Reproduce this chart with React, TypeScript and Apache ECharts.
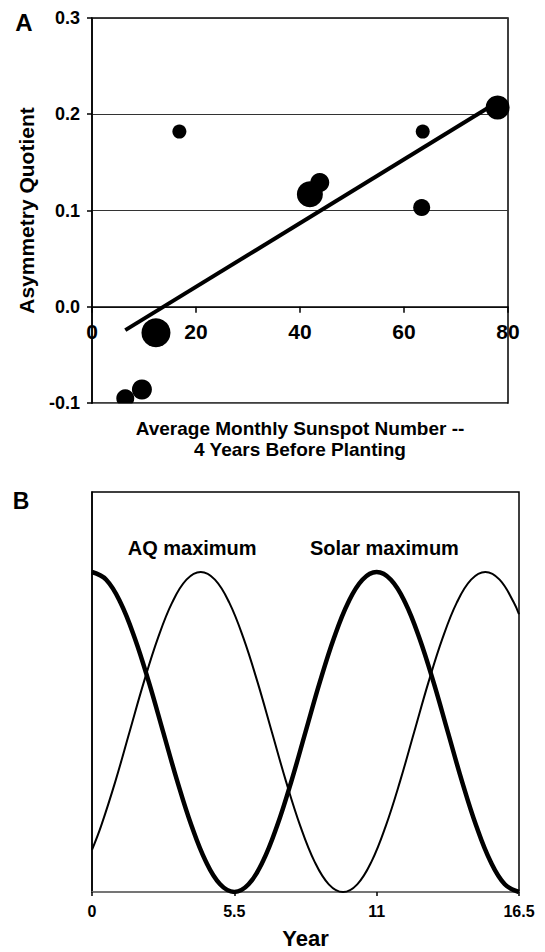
import React, { useEffect, useRef } from "react";
import * as echarts from "echarts";

// ---- Panel A data ----
const sunspotNumber = [16.8, 63.6, 63.4, 43.8, 41.9, 78.0, 12.3, 9.6, 6.4];
const asymmetryQuotient = [0.182, 0.182, 0.103, 0.129, 0.117, 0.207, -0.027, -0.086, -0.095];
const bubbleWeight = [14, 14, 17, 19, 26, 24, 29, 20, 18];
const trendSlope = 0.00331;
const trendIntercept = -0.0455;
const yTicksA = [-0.1, 0.0, 0.1, 0.2, 0.3];
const xTicksA = [0, 20, 40, 60, 80];

// ---- Panel B data ----
const solarYears = [
  0, 0.55, 1.1, 1.65, 2.2, 2.75, 3.3, 3.85, 4.4, 4.95, 5.5, 6.05, 6.6, 7.15, 7.7, 8.25, 8.8,
  9.35, 9.9, 10.45, 11, 11.55, 12.1, 12.65, 13.2, 13.75, 14.3, 14.85, 15.4, 15.95, 16.5,
];
const solarCycle = [
  1, 0.976, 0.905, 0.794, 0.655, 0.5, 0.345, 0.206, 0.095, 0.024, 0, 0.024, 0.095, 0.206,
  0.345, 0.5, 0.655, 0.794, 0.905, 0.976, 1, 0.976, 0.905, 0.794, 0.655, 0.5, 0.345, 0.206,
  0.095, 0.024, 0,
];
const aqYears = [
  0, 0.35, 0.9, 1.45, 2.0, 2.55, 3.1, 3.65, 4.2, 4.75, 5.3, 5.85, 6.4, 6.95, 7.5, 8.05, 8.6,
  9.15, 9.7, 10.25, 10.8, 11.35, 11.9, 12.45, 13.0, 13.55, 14.1, 14.65, 15.2, 15.75, 16.3, 16.5,
];
const aqCycle = [
  0.132, 0.206, 0.345, 0.5, 0.655, 0.794, 0.905, 0.976, 1, 0.976, 0.905, 0.794, 0.655, 0.5,
  0.345, 0.206, 0.095, 0.024, 0, 0.024, 0.095, 0.206, 0.345, 0.5, 0.655, 0.794, 0.905, 0.976,
  1, 0.976, 0.905, 0.868,
];
const cycleLabels = ["AQ maximum", "Solar maximum"];
const cycleLabelYears = [3.87, 11.3];
const cycleLabelLevel = 1.075;
const yearTicks = [0, 5.5, 11, 16.5];

const FONT = '"Liberation Sans", Arial, Helvetica, sans-serif';

export default function App() {
  const ref = useRef<HTMLDivElement>(null);

  useEffect(() => {
    document.body.style.margin = "0";
    if (!ref.current) return;
    const chart = echarts.init(ref.current, null, { renderer: "svg" });

    const gridA = { left: 92, top: 18, width: 416, height: 385 };
    const yMinA = yTicksA[0];
    const yMaxA = yTicksA[yTicksA.length - 1];
    // move the x axis of panel A up to the zero line
    const zeroOffset = -(gridA.height * (0 - yMinA)) / (yMaxA - yMinA);

    const xMinData = Math.min(...sunspotNumber);
    const xMaxData = Math.max(...sunspotNumber);
    const trendData = [
      [xMinData, trendIntercept + trendSlope * xMinData],
      [xMaxData, trendIntercept + trendSlope * xMaxData],
    ];

    const option: any = {
      animation: false,
      textStyle: { fontFamily: FONT, color: "#000" },
      grid: [
        { ...gridA, show: true, borderColor: "#000", borderWidth: 1.5 },
        { left: 92, top: 492, width: 427, height: 400, show: true, borderColor: "#000", borderWidth: 1.5 },
      ],
      xAxis: [
        {
          gridIndex: 0,
          type: "value",
          min: xTicksA[0],
          max: xTicksA[xTicksA.length - 1],
          interval: 20,
          offset: zeroOffset,
          axisLine: { show: true, onZero: false, lineStyle: { color: "#000", width: 1.5 } },
          axisTick: { show: true, length: 6, lineStyle: { color: "#000", width: 1.5 } },
          axisLabel: { fontSize: 21, fontWeight: "bold", color: "#000", margin: 14, fontFamily: FONT },
          splitLine: { show: false },
          name: "Average Monthly Sunspot Number --\n4 Years Before Planting",
          nameLocation: "middle",
          nameGap: 111,
          nameTextStyle: { fontSize: 19, fontWeight: "bold", lineHeight: 21, color: "#000", fontFamily: FONT },
        },
        {
          gridIndex: 1,
          type: "value",
          min: yearTicks[0],
          max: yearTicks[yearTicks.length - 1],
          interval: 5.5,
          axisLine: { show: true, onZero: false, lineStyle: { color: "#888", width: 1.5 } },
          axisTick: { show: true, length: 4, lineStyle: { color: "#000", width: 1.5 } },
          axisLabel: {
            fontSize: 16,
            fontWeight: "bold",
            color: "#000",
            margin: 11,
            fontFamily: FONT,
            formatter: (v: number) => String(v),
          },
          splitLine: { show: false },
          name: "Year",
          nameLocation: "middle",
          nameGap: 35,
          nameTextStyle: { fontSize: 22, fontWeight: "bold", color: "#000", fontFamily: FONT },
        },
      ],
      yAxis: [
        {
          gridIndex: 0,
          type: "value",
          min: yMinA,
          max: yMaxA,
          interval: 0.1,
          axisLine: { show: true, onZero: false, lineStyle: { color: "#000", width: 1.5 } },
          axisTick: { show: true, length: 5, lineStyle: { color: "#000", width: 1.5 } },
          axisLabel: {
            fontSize: 18,
            fontWeight: "bold",
            color: "#000",
            margin: 12,
            fontFamily: FONT,
            formatter: (v: number) => v.toFixed(1),
          },
          splitLine: { show: true, lineStyle: { color: "#333", width: 1 } },
          name: "Asymmetry Quotient",
          nameLocation: "middle",
          nameRotate: 90,
          nameGap: 55,
          nameTextStyle: { fontSize: 21, fontWeight: "bold", color: "#000", fontFamily: FONT },
        },
        {
          gridIndex: 1,
          type: "value",
          min: 0,
          max: 1.25,
          axisLine: { show: true, onZero: false, lineStyle: { color: "#000", width: 1.5 } },
          axisTick: { show: false },
          axisLabel: { show: false },
          splitLine: { show: false },
        },
      ],
      series: [
        {
          type: "line",
          xAxisIndex: 0,
          yAxisIndex: 0,
          data: trendData,
          symbol: "none",
          lineStyle: { color: "#000", width: 4 },
          z: 2,
        },
        {
          type: "scatter",
          xAxisIndex: 0,
          yAxisIndex: 0,
          data: sunspotNumber.map((x, i) => [x, asymmetryQuotient[i], bubbleWeight[i]]),
          symbolSize: (v: number[]) => v[2],
          itemStyle: { color: "#000", opacity: 1 },
          z: 3,
        },
        {
          type: "line",
          xAxisIndex: 1,
          yAxisIndex: 1,
          data: aqYears.map((t, i) => [t, aqCycle[i]]),
          symbol: "none",
          smooth: 0.4,
          lineStyle: { color: "#000", width: 2 },
        },
        {
          type: "line",
          xAxisIndex: 1,
          yAxisIndex: 1,
          data: solarYears.map((t, i) => [t, solarCycle[i]]),
          symbol: "none",
          smooth: 0.4,
          lineStyle: { color: "#000", width: 4.5 },
        },
        {
          type: "scatter",
          xAxisIndex: 1,
          yAxisIndex: 1,
          data: cycleLabels.map((name, i) => [cycleLabelYears[i], cycleLabelLevel, name]),
          symbolSize: 1,
          itemStyle: { color: "rgba(0,0,0,0)", opacity: 1 },
          label: {
            show: true,
            position: "inside",
            formatter: (p: any) => p.data[2],
            fontSize: 20,
            fontWeight: "bold",
            color: "#000",
            opacity: 1,
            textBorderWidth: 0,
            fontFamily: FONT,
          },
        },
      ],
      graphic: [
        {
          type: "rect",
          shape: { x: gridA.left + 1, y: gridA.top + gridA.height + 0.8, width: gridA.width - 2, height: 8 },
          style: { fill: "#fff" },
          z: 100,
        },
        {
          type: "text",
          x: 24,
          y: 22,
          style: { text: "A", font: `bold 24px ${FONT}`, fill: "#000", textAlign: "center", textVerticalAlign: "middle" },
        },
        {
          type: "text",
          x: 21,
          y: 501,
          style: { text: "B", font: `bold 23px ${FONT}`, fill: "#000", textAlign: "center", textVerticalAlign: "middle" },
        },
      ],
    };

    chart.setOption(option);
    return () => chart.dispose();
  }, []);

  return <div ref={ref} style={{ width: 545, height: 952 }} />;
}
